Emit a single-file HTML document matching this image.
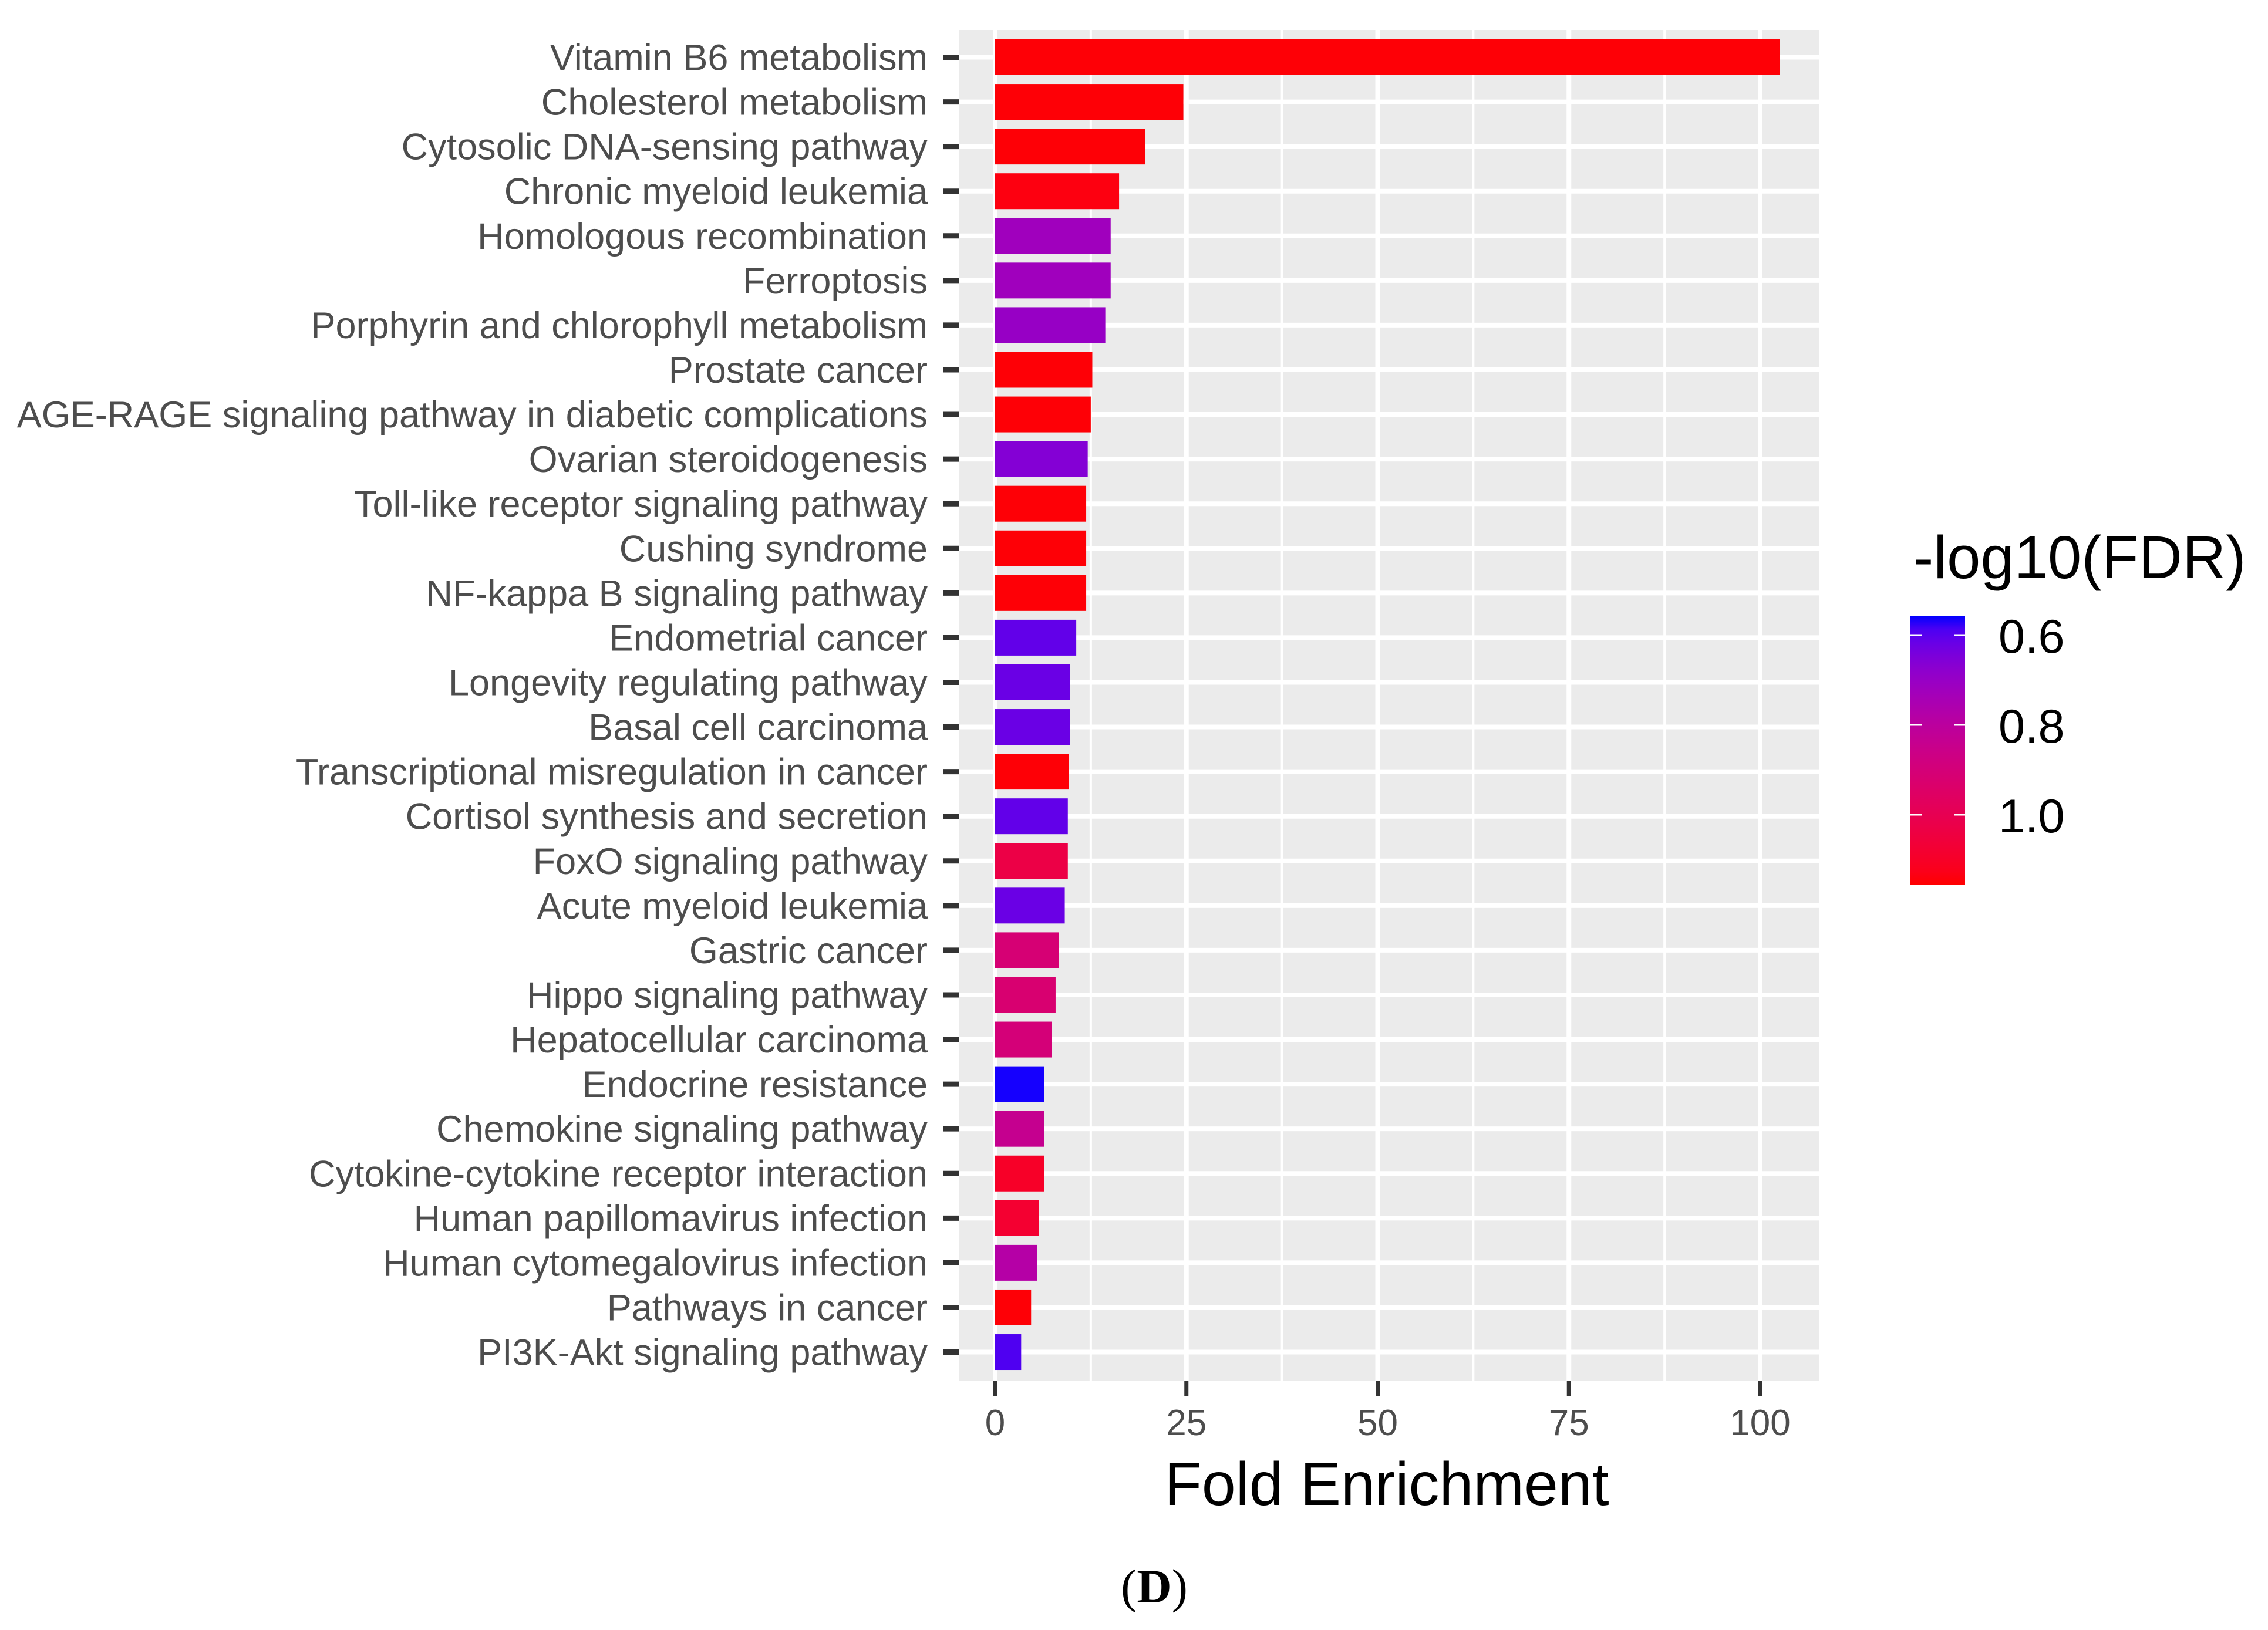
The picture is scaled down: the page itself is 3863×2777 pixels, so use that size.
<!DOCTYPE html>
<html><head><meta charset="utf-8"><style>
html,body{margin:0;padding:0;background:#fff;}
svg{display:block;}
text{font-family:"Liberation Sans",sans-serif;}
</style></head><body>
<svg id="chart" width="3863" height="2777" viewBox="0 0 3863 2777" xmlns="http://www.w3.org/2000/svg">
<rect x="1633" y="51" width="1466" height="2301" fill="#ebebeb"/>
<g id="grid"></g>
<g id="bars"></g>
<g id="ylabels"></g>
<g id="xaxis"></g>
<text x="2362" y="2564" font-size="104" text-anchor="middle" fill="#000">Fold Enrichment</text>
<text x="1966" y="2730" font-size="82" text-anchor="middle" fill="#000" style="font-family:'Liberation Serif',serif">(<tspan font-weight="bold">D</tspan>)</text>
<g id="legend">
<text x="3259" y="985" font-size="103" fill="#000">-log10(FDR)</text>
</g>
</svg>
<script>
const categories = ["Vitamin B6 metabolism","Cholesterol metabolism","Cytosolic DNA-sensing pathway","Chronic myeloid leukemia","Homologous recombination","Ferroptosis","Porphyrin and chlorophyll metabolism","Prostate cancer","AGE-RAGE signaling pathway in diabetic complications","Ovarian steroidogenesis","Toll-like receptor signaling pathway","Cushing syndrome","NF-kappa B signaling pathway","Endometrial cancer","Longevity regulating pathway","Basal cell carcinoma","Transcriptional misregulation in cancer","Cortisol synthesis and secretion","FoxO signaling pathway","Acute myeloid leukemia","Gastric cancer","Hippo signaling pathway","Hepatocellular carcinoma","Endocrine resistance","Chemokine signaling pathway","Cytokine-cytokine receptor interaction","Human papillomavirus infection","Human cytomegalovirus infection","Pathways in cancer","PI3K-Akt signaling pathway"];
const foldEnrichment = [102.6,24.6,19.6,16.2,15.1,15.1,14.4,12.7,12.5,12.1,11.9,11.9,11.9,10.6,9.8,9.8,9.6,9.5,9.5,9.1,8.3,7.9,7.4,6.4,6.4,6.4,5.7,5.5,4.7,3.4];
const negLogFDR = [1.15,1.15,1.15,1.14,0.72,0.72,0.70,1.15,1.15,0.66,1.15,1.15,1.15,0.61,0.62,0.62,1.15,0.61,1.03,0.62,0.91,0.92,0.90,0.56,0.84,1.1,1.08,0.78,1.15,0.59];
const xTicks = [0,25,50,75,100];
const xTickLabels = ["0","25","50","75","100"];
const legendTicks = [0.6,0.8,1.0];
const legendTickLabels = ["0.6","0.8","1.0"];

const NS="http://www.w3.org/2000/svg";
function mk(tag, attrs, parent){const e=document.createElementNS(NS,tag);for(const k in attrs)e.setAttribute(k,attrs[k]);parent.appendChild(e);return e;}
const x = v => 1695 + v*13.03;
const y = i => 97.5 + i*76.07;
const colMin=0.557, colMax=1.156;
const ly = v => 1082 + (v-0.6)*765;

function srgb2lin(c){c/=255;return c<=0.04045?c/12.92:Math.pow((c+0.055)/1.055,2.4);}
function lin2srgb(c){c=c<=0.0031308?12.92*c:1.055*Math.pow(c,1/2.4)-0.055;return Math.round(Math.max(0,Math.min(1,c))*255);}
function toLab(r,g,b){r=srgb2lin(r);g=srgb2lin(g);b=srgb2lin(b);
 let X=(0.4124*r+0.3576*g+0.1805*b)/0.95047,Y=(0.2126*r+0.7152*g+0.0722*b),Z=(0.0193*r+0.1192*g+0.9505*b)/1.08883;
 const f=t=>t>0.008856?Math.cbrt(t):7.787*t+16/116;
 return [116*f(Y)-16,500*(f(X)-f(Y)),200*(f(Y)-f(Z))];}
function fromLab(L,a,bb){const fy=(L+16)/116,fx=fy+a/500,fz=fy-bb/200;
 const fi=t=>t*t*t>0.008856?t*t*t:(t-16/116)/7.787;
 const X=fi(fx)*0.95047,Y=fi(fy),Z=fi(fz)*1.08883;
 const r=3.2406*X-1.5372*Y-0.4986*Z,g=-0.9689*X+1.8758*Y+0.0415*Z,b=0.0557*X-0.2040*Y+1.0570*Z;
 return `rgb(${lin2srgb(r)},${lin2srgb(g)},${lin2srgb(b)})`;}
const labBlue=toLab(0,0,255), labRed=toLab(255,0,0);
function color(v){let t=(v-colMin)/(colMax-colMin);t=Math.max(0,Math.min(1,t));
 return fromLab(labBlue[0]+(labRed[0]-labBlue[0])*t,labBlue[1]+(labRed[1]-labBlue[1])*t,labBlue[2]+(labRed[2]-labBlue[2])*t);}

const grid=document.getElementById('grid');
for(let k=0;k<xTicks.length;k++){
 const m=mk('line',{x1:x(xTicks[k]+12.5),x2:x(xTicks[k]+12.5),y1:51,y2:2352,stroke:'#fff','stroke-width':4},grid);
 
 
}
for(let k=0;k<xTicks.length;k++){
 const g=mk('line',{x1:x(xTicks[k]),x2:x(xTicks[k]),y1:51,y2:2352,stroke:'#fff','stroke-width':8},grid);
 
 
}
for(let i=0;i<categories.length;i++){
 const g=mk('line',{x1:1633,x2:3099,y1:y(i),y2:y(i),stroke:'#fff','stroke-width':8},grid);
 
 
}
const bars=document.getElementById('bars'), yl=document.getElementById('ylabels');
for(let i=0;i<categories.length;i++){
 const r=mk('rect',{x:x(0),y:y(i)-30.5,width:x(foldEnrichment[i])-x(0),height:61,fill:color(negLogFDR[i])},bars);
 
 
 const t=mk('text',{x:1580,y:y(i)+22,'font-size':63,'text-anchor':'end',fill:'#4d4d4d'},yl);
 t.textContent=categories[i];
 
 
 const tk=mk('line',{x1:1606,x2:1633,y1:y(i),y2:y(i),stroke:'#333','stroke-width':9},yl);
 
 
}
const xa=document.getElementById('xaxis');
for(let k=0;k<xTicks.length;k++){
 const tk=mk('line',{x1:x(xTicks[k]),x2:x(xTicks[k]),y1:2352,y2:2378,stroke:'#333','stroke-width':7},xa);
 
 
 const t=mk('text',{x:x(xTicks[k]),y:2445,'font-size':62,'text-anchor':'middle',fill:'#4d4d4d'},xa);
 t.textContent=xTickLabels[k];
 
 
}
const lg=document.getElementById('legend');
const defs=mk('defs',{},lg);
const grad=mk('linearGradient',{id:'cg',x1:0,y1:0,x2:0,y2:1},defs);
for(let s=0;s<=20;s++){const v=colMin+(colMax-colMin)*s/20;mk('stop',{offset:(s/20),'stop-color':color(v)},grad);}
const cb=mk('rect',{x:3254,y:ly(colMin),width:93,height:ly(colMax)-ly(colMin),fill:'url(#cg)'},lg);


for(let k=0;k<legendTicks.length;k++){
 const yy=ly(legendTicks[k]);
 const a=mk('line',{x1:3254,x2:3273,y1:yy,y2:yy,stroke:'#fff','stroke-width':3},lg);
 
 
 const b=mk('line',{x1:3328,x2:3347,y1:yy,y2:yy,stroke:'#fff','stroke-width':3},lg);
 
 
 const t=mk('text',{x:3404,y:yy+30,'font-size':81,fill:'#000'},lg);
 t.textContent=legendTickLabels[k];
 
 
}
</script>
</body></html>
